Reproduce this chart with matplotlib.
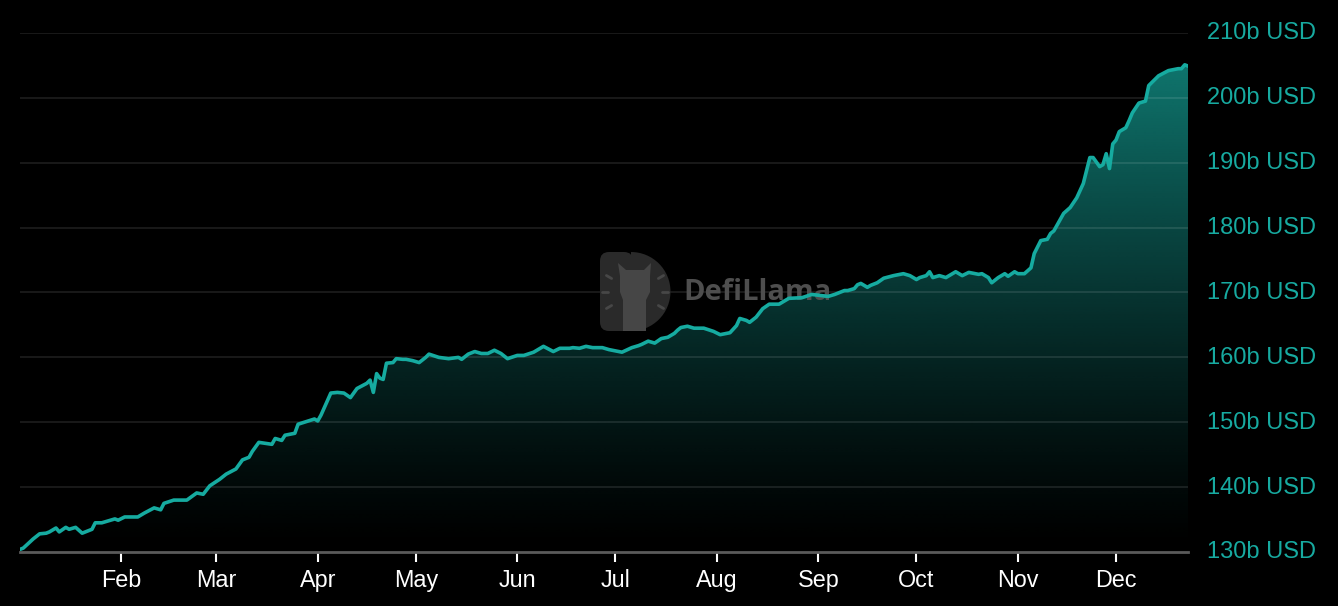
import numpy as np
import pandas as pd
import matplotlib
matplotlib.use("Agg")
import matplotlib.pyplot as plt
import matplotlib.dates as mdates
import matplotlib.transforms as mtransforms
from matplotlib.patches import FancyBboxPatch, Wedge, Polygon
from matplotlib.lines import Line2D

# ---------------- data ----------------
dates = [
    "2024-01-01", "2024-01-02", "2024-01-05", "2024-01-07", "2024-01-09", "2024-01-10",
    "2024-01-12", "2024-01-13", "2024-01-15", "2024-01-16", "2024-01-18", "2024-01-20",
    "2024-01-23", "2024-01-24", "2024-01-26", "2024-01-28", "2024-01-30", "2024-01-31",
    "2024-02-02", "2024-02-06", "2024-02-08", "2024-02-11", "2024-02-13", "2024-02-14",
    "2024-02-17", "2024-02-21", "2024-02-24", "2024-02-26", "2024-02-28", "2024-03-02",
    "2024-03-04", "2024-03-07", "2024-03-09", "2024-03-11", "2024-03-12", "2024-03-14",
    "2024-03-18", "2024-03-19", "2024-03-21", "2024-03-22", "2024-03-25", "2024-03-26",
    "2024-03-31", "2024-04-01", "2024-04-02", "2024-04-05", "2024-04-07", "2024-04-09",
    "2024-04-11", "2024-04-13", "2024-04-16", "2024-04-17", "2024-04-18", "2024-04-19",
    "2024-04-20", "2024-04-21", "2024-04-22", "2024-04-24", "2024-04-25", "2024-04-27",
    "2024-04-28", "2024-04-30", "2024-05-02", "2024-05-04", "2024-05-05", "2024-05-08",
    "2024-05-11", "2024-05-14", "2024-05-15", "2024-05-17", "2024-05-19", "2024-05-21",
    "2024-05-23", "2024-05-25", "2024-05-27", "2024-05-29", "2024-06-01", "2024-06-03",
    "2024-06-06", "2024-06-09", "2024-06-12", "2024-06-14", "2024-06-17", "2024-06-18",
    "2024-06-20", "2024-06-22", "2024-06-24", "2024-06-27", "2024-06-29", "2024-07-02",
    "2024-07-03", "2024-07-06", "2024-07-08", "2024-07-09", "2024-07-11", "2024-07-13",
    "2024-07-15", "2024-07-17", "2024-07-19", "2024-07-20", "2024-07-21", "2024-07-23",
    "2024-07-25", "2024-07-28", "2024-07-31", "2024-08-02", "2024-08-05", "2024-08-07",
    "2024-08-08", "2024-08-10", "2024-08-11", "2024-08-13", "2024-08-15", "2024-08-17",
    "2024-08-20", "2024-08-23", "2024-08-27", "2024-08-30", "2024-09-04", "2024-09-06",
    "2024-09-09", "2024-09-10", "2024-09-12", "2024-09-13", "2024-09-14", "2024-09-16",
    "2024-09-17", "2024-09-19", "2024-09-21", "2024-09-24", "2024-09-27", "2024-09-29",
    "2024-10-01", "2024-10-02", "2024-10-04", "2024-10-05", "2024-10-06", "2024-10-08",
    "2024-10-10", "2024-10-13", "2024-10-15", "2024-10-17", "2024-10-20", "2024-10-21",
    "2024-10-23", "2024-10-24", "2024-10-26", "2024-10-28", "2024-10-29", "2024-10-31",
    "2024-11-01", "2024-11-03", "2024-11-05", "2024-11-06", "2024-11-08", "2024-11-10",
    "2024-11-11", "2024-11-12", "2024-11-15", "2024-11-17", "2024-11-19", "2024-11-21",
    "2024-11-23", "2024-11-24", "2024-11-26", "2024-11-27", "2024-11-28", "2024-11-29",
    "2024-11-30", "2024-12-01", "2024-12-02", "2024-12-04", "2024-12-05", "2024-12-06",
    "2024-12-08", "2024-12-10", "2024-12-11", "2024-12-14", "2024-12-17", "2024-12-18",
    "2024-12-20", "2024-12-21", "2024-12-22", "2024-12-23",
]
tvl_b = [
    130.4, 130.6, 132.0, 132.8, 132.9, 133.1,
    133.7, 133.1, 133.8, 133.5, 133.8, 132.9,
    133.5, 134.5, 134.5, 134.8, 135.1, 134.9,
    135.4, 135.4, 136.0, 136.8, 136.5, 137.5,
    138.0, 138.0, 139.1, 138.9, 140.2, 141.2,
    142.0, 142.8, 144.2, 144.6, 145.5, 146.9,
    146.6, 147.5, 147.2, 148.0, 148.3, 149.7,
    150.5, 150.2, 151.1, 154.5, 154.6, 154.5,
    153.8, 155.2, 156.0, 156.5, 154.6, 157.5,
    156.8, 156.6, 159.1, 159.2, 159.8, 159.7,
    159.7, 159.5, 159.2, 160.0, 160.5, 160.0,
    159.8, 160.0, 159.7, 160.5, 160.9, 160.6,
    160.6, 161.1, 160.6, 159.8, 160.3, 160.3,
    160.8, 161.7, 160.9, 161.4, 161.4, 161.5,
    161.4, 161.7, 161.5, 161.5, 161.2, 160.9,
    160.8, 161.5, 161.8, 162.0, 162.5, 162.2,
    162.9, 163.1, 163.7, 164.2, 164.6, 164.8,
    164.5, 164.5, 164.0, 163.5, 163.8, 164.9,
    166.0, 165.7, 165.4, 166.2, 167.5, 168.2,
    168.2, 169.1, 169.2, 169.7, 169.4, 169.7,
    170.3, 170.3, 170.6, 171.2, 171.4, 170.8,
    171.1, 171.5, 172.2, 172.6, 172.9, 172.6,
    172.0, 172.3, 172.6, 173.2, 172.3, 172.6,
    172.3, 173.2, 172.6, 173.1, 172.8, 172.9,
    172.3, 171.5, 172.3, 172.9, 172.5, 173.2,
    172.9, 172.9, 173.8, 176.0, 178.0, 178.2,
    179.1, 179.5, 182.2, 183.1, 184.6, 186.8,
    190.8, 190.8, 189.4, 189.7, 191.4, 189.1,
    192.9, 193.5, 194.8, 195.4, 196.5, 197.7,
    199.2, 199.5, 201.9, 203.4, 204.2, 204.3,
    204.5, 204.5, 205.1, 204.9,
]
y_ticks = [130, 140, 150, 160, 170, 180, 190, 200, 210]
month_ticks = ["2024-02-01", "2024-03-01", "2024-04-01", "2024-05-01", "2024-06-01",
               "2024-07-01", "2024-08-01", "2024-09-01", "2024-10-01", "2024-11-01",
               "2024-12-01"]
month_labels = ["Feb", "Mar", "Apr", "May", "Jun", "Jul", "Aug", "Sep", "Oct", "Nov", "Dec"]

# ---------------- style ----------------
TEAL = "#16ab a0".replace(" ", "")
LABEL_TEAL = "#17aaa0"
plt.rcParams["font.family"] = ["Liberation Sans", "DejaVu Sans"]

W, H, DPI = 1338, 606, 100
fig = plt.figure(figsize=(W / DPI, H / DPI), dpi=DPI, facecolor="black")
ax = fig.add_axes([20 / W, 1 - 552 / H, (1188 - 20) / W, (552 - 33) / H])
ax.set_facecolor("black")

x = mdates.date2num(pd.to_datetime(dates))
y = np.array(tvl_b)
xmin, xmax = x[0], x[-1]
ymin, ymax = y_ticks[0], y_ticks[-1]

# gradient fill under curve
poly = ax.fill_between(x, y, ymin, color="none", linewidth=0)
t = np.linspace(0, 1, 256)[:, None]
alpha = 0.74 * t ** 1.25
rgb = np.array(matplotlib.colors.to_rgb(TEAL))
grad = np.zeros((256, 2, 4))
grad[..., :3] = rgb
grad[..., 3] = alpha
im = ax.imshow(grad, extent=[xmin, xmax, ymin, ymax], origin="lower",
               aspect="auto", zorder=1, interpolation="bilinear")
im.set_clip_path(poly.get_paths()[0], transform=ax.transData)

# grid lines
for v in y_ticks[1:]:
    ax.axhline(v, color="white", alpha=0.11, lw=1.3, zorder=2)

# watermark (pixel coordinates)
disp = mtransforms.IdentityTransform()
def P(px, py):
    return (px, H - py)

LOGO_BG = "#2a2a2a"
body = FancyBboxPatch(P(600, 331), 33, 79, boxstyle="round,pad=0,rounding_size=9",
                      transform=disp, facecolor=LOGO_BG, edgecolor="none",
                      zorder=3, clip_on=False)
ax.add_patch(body)
wed = Wedge(P(631, 291.5), 39.5, -90, 90, transform=disp, facecolor=LOGO_BG,
            edgecolor="none", zorder=3, clip_on=False)
ax.add_patch(wed)
llama = Polygon([P(623, 331), P(623, 300), P(620, 292), P(620, 276), P(618, 263),
                 P(626, 270), P(644, 270), P(651, 263), P(650, 276), P(650, 292),
                 P(646, 300), P(646, 331)],
                transform=disp, facecolor="#464646", edgecolor="none",
                zorder=3, clip_on=False)
ax.add_patch(llama)
for ang in [150, 180, 210, 30, 0, -30]:
    a = np.deg2rad(ang)
    cx, cy = 635, 292
    r0, r1 = 27, 33
    x0, y0 = cx + r0 * np.cos(a), cy - r0 * np.sin(a)
    x1, y1 = cx + r1 * np.cos(a), cy - r1 * np.sin(a)
    ln = Line2D([x0, x1], [H - y0, H - y1], transform=disp, color="#474747",
                lw=2, solid_capstyle="round", zorder=3, clip_on=False)
    ax.add_line(ln)
ax.text(P(683, 293)[0], P(683, 293)[1], "DefiLlama", transform=disp,
        fontsize=21, fontweight="bold", color="#4e4e4e",
        family=["Open Sans", "DejaVu Sans"], va="center", ha="left", zorder=3)

# line
ax.plot(x, y, color=TEAL, lw=2.6, zorder=4, solid_joinstyle="round")

ax.set_xlim(xmin, xmax)
ax.set_ylim(ymin, ymax)

# axes cosmetics
for s in ["top", "left", "right"]:
    ax.spines[s].set_visible(False)
ax.spines["bottom"].set_color("#5a5a5a")
ax.spines["bottom"].set_linewidth(2)
ax.spines["bottom"].set_zorder(5)

ax.set_xticks(mdates.date2num(pd.to_datetime(month_ticks)))
ax.set_xticklabels(month_labels)
ax.tick_params(axis="x", colors="white", length=7, width=1.5, pad=5,
               labelsize=16.8, labelcolor="white")
ax.yaxis.tick_right()
ax.set_yticks(y_ticks)
ax.set_yticklabels([f"{v}b USD" for v in y_ticks])
ax.tick_params(axis="y", length=0, pad=14, labelsize=17, labelcolor=LABEL_TEAL)
off = mtransforms.ScaledTranslation(0, 2 / DPI, fig.dpi_scale_trans)
for lab in ax.get_yticklabels():
    lab.set_transform(lab.get_transform() + off)

fig.savefig("out.png", dpi=DPI, facecolor="black")
